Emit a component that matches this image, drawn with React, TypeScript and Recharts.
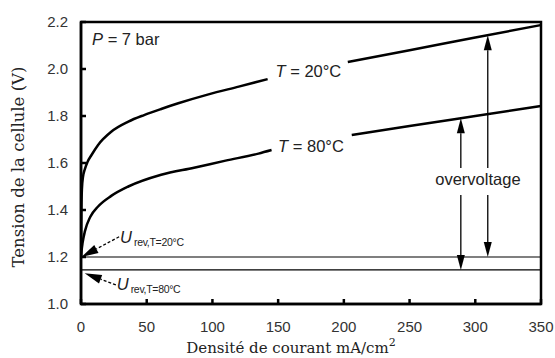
import {
  LineChart,
  Line,
  XAxis,
  YAxis,
  ReferenceLine,
  ReferenceDot,
  ReferenceArea,
  Label,
} from 'recharts'

// cell voltage vs current density
const t20Current = [0, 0.3, 0.7, 1.5, 3, 5, 8, 13, 23, 36, 48, 61, 74, 97, 120, 142, 170, 203, 250, 300, 350]
const t20Voltage = [1.2, 1.4, 1.49, 1.54, 1.575, 1.605, 1.634, 1.677, 1.733, 1.776, 1.804, 1.83, 1.854, 1.892, 1.925, 1.957, null, 2.03, 2.08, 2.134, 2.187]
const t80Current = [0, 0.4, 1.2, 3, 7, 13, 23, 36, 61, 86, 110, 135, 145, 175, 206, 250, 300, 350]
const t80Voltage = [1.2, 1.225, 1.26, 1.31, 1.37, 1.415, 1.46, 1.5, 1.55, 1.58, 1.61, 1.64, 1.655, null, 1.719, 1.757, 1.8, 1.843]

const uRev20 = 1.2
const uRev80 = 1.145

const xTicks = [0, 50, 100, 150, 200, 250, 300, 350]
const yTicks = [1.0, 1.2, 1.4, 1.6, 1.8, 2.0, 2.2]

// overvoltage arrows: [current, from (text gap), to]
const overArrows = [
  [289, 1.579, 1.79],
  [289, 1.464, uRev80],
  [309.5, 1.579, 2.144],
  [309.5, 1.464, uRev20],
]

const t20Data = t20Current.map((i, k) => ({ i, v: t20Voltage[k] }))
const t80Data = t80Current.map((i, k) => ({ i, v: t80Voltage[k] }))

const SANS = 'Liberation Sans, Arial, sans-serif'
const SERIF = 'DejaVu Serif, serif'

const arrow = (dashed: boolean, hl = 15, hw = 3.6) => (p: any) => {
  const { x1, y1, x2, y2 } = p
  const dx = x2 - x1
  const dy = y2 - y1
  const len = Math.hypot(dx, dy) || 1
  const ux = dx / len
  const uy = dy / len
  const bx = x2 - ux * hl
  const by = y2 - uy * hl
  const pts = `${x2},${y2} ${bx - uy * hw},${by + ux * hw} ${bx + uy * hw},${by - ux * hw}`
  return (
    <g>
      <line
        x1={x1}
        y1={y1}
        x2={bx}
        y2={by}
        stroke="#000"
        strokeWidth={1.3}
        strokeDasharray={dashed ? '3 2' : undefined}
      />
      <polygon points={pts} fill="#000" />
    </g>
  )
}

const textAt = (render: (x: number, y: number) => any) => (p: any) => render(p.cx, p.cy)

export default function App() {
  return (
    <div style={{ position: 'fixed', left: 0, top: 0, background: '#fff' }}>
      <LineChart width={555} height={358} margin={{ top: 22, right: 14, left: 0, bottom: 0 }}>
        <XAxis
          type="number"
          dataKey="i"
          domain={[0, 350]}
          ticks={xTicks}
          allowDataOverflow
          height={54}
          tickSize={-5}
          tickMargin={22}
          tickLine={{ stroke: '#000', strokeWidth: 2.5 }}
          axisLine={{ stroke: '#000', strokeWidth: 2.5 }}
          tick={{ fill: '#333', fontSize: 15, fontFamily: SANS }}
        >
          <Label
            content={(props: any) => {
              const vb = props.viewBox
              return (
                <text
                  x={vb.x + vb.width / 2 - 20}
                  y={vb.y + 49}
                  textAnchor="middle"
                  fontFamily={SERIF}
                  fontSize={15}
                  fill="#222"
                >
                  Densité de courant mA/cm
                  <tspan fontSize={11} dy={-7}>2</tspan>
                </text>
              )
            }}
          />
        </XAxis>
        <YAxis
          type="number"
          domain={[1.0, 2.2]}
          ticks={yTicks}
          allowDataOverflow
          width={81}
          tickSize={-5}
          tickMargin={18}
          tickFormatter={(v: number) => v.toFixed(1)}
          tickLine={{ stroke: '#000', strokeWidth: 2.5 }}
          axisLine={{ stroke: '#000', strokeWidth: 2.5 }}
          tick={{ fill: '#333', fontSize: 15, fontFamily: SANS }}
        >
          <Label
            content={(props: any) => {
              const vb = props.viewBox
              const cx = vb.x + 24
              const cy = vb.y + vb.height / 2 + 4
              return (
                <text
                  x={cx}
                  y={cy}
                  transform={`rotate(-90 ${cx} ${cy})`}
                  textAnchor="middle"
                  fontFamily={SERIF}
                  fontSize={16.5}
                  fill="#222"
                >
                  Tension de la cellule (V)
                </text>
              )
            }}
          />
        </YAxis>

        <ReferenceArea x1={0} x2={350} y1={1.0} y2={2.2} fill="none" stroke="#000" strokeWidth={2.5} />

        <ReferenceLine y={uRev20} stroke="#000" strokeWidth={1.2} />
        <ReferenceLine y={uRev80} stroke="#000" strokeWidth={1.2} />

        <Line
          data={t20Data}
          dataKey="v"
          type="monotone"
          stroke="#000"
          strokeWidth={2.5}
          dot={false}
          isAnimationActive={false}
        />
        <Line
          data={t80Data}
          dataKey="v"
          type="monotone"
          stroke="#000"
          strokeWidth={2.5}
          dot={false}
          isAnimationActive={false}
        />

        {overArrows.map(([i, from, to], k) => (
          <ReferenceLine
            key={k}
            segment={[{ x: i, y: from }, { x: i, y: to }]}
            shape={arrow(false, 15, 4)}
          />
        ))}

        <ReferenceLine segment={[{ x: 29, y: 1.286 }, { x: 0.3, y: uRev20 }]} shape={arrow(true, 17, 4.5)} />
        <ReferenceLine segment={[{ x: 26.5, y: 1.081 }, { x: 2.8, y: 1.131 }]} shape={arrow(true, 17, 4.5)} />

        <ReferenceDot
          x={8.4}
          y={2.102}
          r={0}
          shape={textAt((x, y) => (
            <text x={x} y={y} fontFamily={SANS} fontSize={16.5} fill="#222">
              <tspan fontStyle="italic">P</tspan> = 7 bar
            </text>
          ))}
        />
        <ReferenceDot
          x={173}
          y={1.966}
          r={0}
          shape={textAt((x, y) => (
            <text x={x} y={y} textAnchor="middle" fontFamily={SANS} fontSize={16.5} fill="#222">
              <tspan fontStyle="italic">T</tspan> = 20°C
            </text>
          ))}
        />
        <ReferenceDot
          x={175}
          y={1.647}
          r={0}
          shape={textAt((x, y) => (
            <text x={x} y={y} textAnchor="middle" fontFamily={SANS} fontSize={16.5} fill="#222">
              <tspan fontStyle="italic">T</tspan> = 80°C
            </text>
          ))}
        />
        <ReferenceDot
          x={302}
          y={1.506}
          r={0}
          shape={textAt((x, y) => (
            <text x={x} y={y} textAnchor="middle" fontFamily={SANS} fontSize={16.5} fill="#222">
              overvoltage
            </text>
          ))}
        />
        <ReferenceDot
          x={29.7}
          y={1.26}
          r={0}
          shape={textAt((x, y) => (
            <text x={x} y={y} fontFamily={SANS} fontSize={16.5} fill="#222">
              <tspan fontStyle="italic">U</tspan>
              <tspan fontSize={10.5} dx={2} dy={3} letterSpacing={-0.3}>rev,T=20°C</tspan>
            </text>
          ))}
        />
        <ReferenceDot
          x={27.2}
          y={1.06}
          r={0}
          shape={textAt((x, y) => (
            <text x={x} y={y} fontFamily={SANS} fontSize={16.5} fill="#222">
              <tspan fontStyle="italic">U</tspan>
              <tspan fontSize={10.5} dx={2} dy={3} letterSpacing={-0.3}>rev,T=80°C</tspan>
            </text>
          ))}
        />
      </LineChart>
    </div>
  )
}
